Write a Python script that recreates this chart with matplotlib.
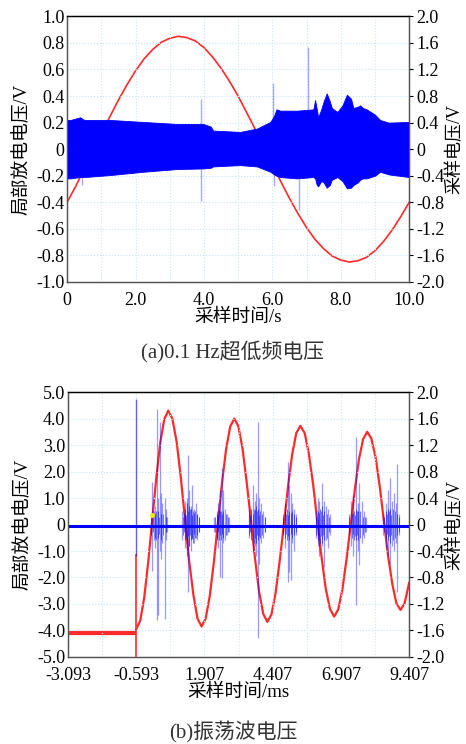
import matplotlib
matplotlib.use("Agg")
import matplotlib.pyplot as plt
from matplotlib.ticker import FixedLocator

plt.rcParams['font.family'] = ['Liberation Serif', 'Noto Sans CJK SC']
plt.rcParams['axes.unicode_minus'] = False

# ---- (a) 0.1 Hz VLF voltage ----
# sampled voltage (red, right axis), read every 0.25 s
vlf_t = [0, 0.25, 0.5, 0.75, 1.0, 1.25, 1.5, 1.75, 2.0, 2.25, 2.5, 2.75, 3.0, 3.25,
         3.5, 3.75, 4.0, 4.25, 4.5, 4.75, 5.0, 5.25, 5.5, 5.75, 6.0, 6.25, 6.5, 6.75,
         7.0, 7.25, 7.5, 7.75, 8.0, 8.25, 8.5, 8.75, 9.0, 9.25, 9.5, 9.75, 10.0]
vlf_v = [-0.80, -0.56, -0.30, -0.03, 0.23, 0.49, 0.74, 0.97, 1.18, 1.36, 1.50, 1.61,
         1.67, 1.70, 1.68, 1.63, 1.53, 1.39, 1.22, 1.02, 0.80, 0.55, 0.30, 0.03, -0.23,
         -0.49, -0.74, -0.97, -1.18, -1.36, -1.50, -1.61, -1.67, -1.70, -1.68, -1.63,
         -1.53, -1.39, -1.22, -1.02, -0.80]

# PD signal envelope (blue, left axis)
pd_t = [0, 0.1, 0.38, 0.5, 1.26, 2.23, 3.2, 3.98, 4.2, 4.27, 5.06, 5.55, 5.94, 6.05,
        6.12, 6.23, 6.72, 7.2, 7.25, 7.3, 7.34, 7.43, 7.5, 7.59, 7.68, 7.74, 7.9, 8.05,
        8.18, 8.3, 8.37, 8.5, 8.57, 8.65, 8.76, 9.0, 9.15, 9.4, 10.0]
pd_hi = [0.22, 0.22, 0.24, 0.22, 0.22, 0.205, 0.19, 0.19, 0.17, 0.14, 0.13, 0.155, 0.205,
         0.25, 0.30, 0.29, 0.29, 0.30, 0.37, 0.30, 0.24, 0.30, 0.36, 0.42, 0.36, 0.31,
         0.28, 0.33, 0.41, 0.38, 0.31, 0.32, 0.33, 0.31, 0.30, 0.26, 0.22, 0.20, 0.205]
pd_lo = [-0.22, -0.22, -0.21, -0.21, -0.195, -0.17, -0.15, -0.145, -0.14, -0.13, -0.12,
         -0.13, -0.17, -0.19, -0.20, -0.21, -0.22, -0.21, -0.22, -0.27, -0.28, -0.24,
         -0.25, -0.29, -0.27, -0.23, -0.21, -0.24, -0.295, -0.29, -0.27, -0.25, -0.23,
         -0.22, -0.22, -0.20, -0.17, -0.19, -0.21]

# isolated pulses (t, low, high)
pd_spike_t = [0.44, 3.92, 6.01, 6.05, 6.77, 7.05]
pd_spike_lo = [-0.27, -0.39, 0.0, -0.28, -0.46, 0.0]
pd_spike_hi = [0.0, 0.38, 0.50, 0.0, 0.0, 0.77]

# ---- (b) oscillating wave voltage ----
osc_flat_t = [-3.093, -0.593]
osc_flat_v = [-1.64, -1.64]
# red trigger step at -0.593 ms, in left-axis units
osc_step_t = -0.593
osc_step_lo, osc_step_hi = -5.0, -1.1

osc_t = [-0.593, -0.446, -0.300, -0.153, -0.007, 0.140, 0.287, 0.433, 0.58, 0.73, 0.89,
         1.04, 1.19, 1.34, 1.50, 1.65, 1.80, 1.95, 2.10, 2.25, 2.40, 2.55, 2.70, 2.85,
         3.00, 3.15, 3.30, 3.45, 3.61, 3.76, 3.91, 4.06, 4.21, 4.36, 4.51, 4.66, 4.82,
         4.97, 5.12, 5.27, 5.42, 5.58, 5.73, 5.89, 6.04, 6.20, 6.35, 6.51, 6.66, 6.81,
         6.96, 7.11, 7.27, 7.42, 7.57, 7.72, 7.87, 8.02, 8.18, 8.33, 8.48, 8.63, 8.79,
         8.94, 9.09, 9.24, 9.407]
osc_v = [-1.58, -1.45, -1.10, -0.56, 0.07, 0.70, 1.24, 1.59, 1.72, 1.60, 1.24, 0.71,
         0.09, -0.53, -1.06, -1.42, -1.54, -1.42, -1.08, -0.57, 0.03, 0.63, 1.14, 1.48,
         1.60, 1.48, 1.15, 0.65, 0.07, -0.52, -1.02, -1.35, -1.47, -1.36, -1.04, -0.56,
         0.01, 0.58, 1.06, 1.38, 1.49, 1.38, 1.07, 0.60, 0.05, -0.50, -0.97, -1.28, -1.39,
         -1.28, -0.98, -0.53, 0.01, 0.54, 0.99, 1.29, 1.40, 1.30, 1.01, 0.57, 0.06, -0.46,
         -0.90, -1.19, -1.29, -1.19, -0.88]

pd2_base = -0.05
pd2_first_t, pd2_first_lo, pd2_first_hi = -0.593, -1.2, 4.75

# faint PD pulses (t, low, high)
pd2_spike = [
    (-0.03, -1.75, 1.60), (0.05, -0.6, 0.5), (0.10, -0.9, 0.7), (0.156, -3.60, 4.38),
    (0.215, -3.42, 1.0), (0.28, -1.0, 3.88), (0.35, -0.7, 0.8), (0.31, -1.3, 1.2),
    (0.46, -3.55, 1.0), (0.50, -0.6, 0.6), (0.55, -0.3, 0.3),
    (1.10, -0.6, 0.5), (1.18, -0.9, 0.9), (1.25, -1.2, 1.0), (1.29, -2.53, 2.62),
    (1.35, -0.8, 1.3), (1.40, -1.0, 0.7), (1.45, -0.5, 1.5), (1.52, -0.7, 0.6),
    (1.58, -0.5, 0.8), (1.65, -0.6, 0.4), (1.72, -0.3, 0.3),
    (2.25, -0.3, 0.3), (2.35, -0.6, 0.5), (2.42, -0.9, 0.8), (2.47, -1.97, 1.30),
    (2.54, -2.03, 2.12), (2.60, -0.7, 1.3), (2.65, -0.6, 0.6), (2.72, -0.4, 0.4),
    (2.80, -0.3, 0.3),
    (3.55, -0.5, 0.6), (3.69, -1.03, 1.49), (3.75, -0.8, 0.9), (3.80, -1.2, 1.2),
    (3.85, -4.30, 3.88), (3.90, -1.5, 1.0), (3.97, -0.7, 0.8), (4.05, -0.5, 0.5),
    (4.12, -0.3, 0.3),
    (4.78, -0.4, 0.4), (4.85, -0.9, 0.8), (4.95, -2.16, 2.37), (5.00, -1.8, 1.5),
    (5.06, -2.09, 1.2), (5.12, -0.7, 0.8), (5.18, -1.0, 0.6), (5.25, -0.4, 0.4),
    (5.98, -0.5, 0.5), (6.05, -0.8, 1.0), (6.12, -1.2, 0.9), (6.20, -0.8, 1.57),
    (6.28, -1.6, 0.9), (6.35, -0.6, 0.7), (6.42, -0.9, 0.6), (6.50, -0.4, 0.4),
    (7.20, -0.4, 0.4), (7.28, -0.8, 0.9), (7.36, -1.2, 1.1), (7.46, -3.04, 3.31),
    (7.52, -1.0, 0.8), (7.58, -1.53, 1.55), (7.68, -0.7, 0.9), (7.76, -0.5, 0.5),
    (7.84, -0.3, 0.3),
    (8.45, -0.4, 0.4), (8.55, -0.9, 0.8), (8.62, -1.2, 1.3), (8.70, -1.5, 1.74),
    (8.78, -0.8, 0.9), (8.85, -1.0, 1.2), (8.92, -0.7, 0.8), (8.97, -2.54, 2.30),
    (9.03, -0.4, 0.4),
]

# dense burst cores (t, low, high)
pd2_core = [
    (-0.05, -0.4, 0.3), (0.02, -0.3, 0.35), (0.08, -0.5, 0.4), (0.12, -0.6, 0.5),
    (0.20, -0.5, 0.5), (0.25, -0.35, 0.3), (0.30, -0.6, 0.4), (0.40, -0.4, 0.4),
    (0.50, -0.3, 0.3),
    (1.12, -0.4, 0.3), (1.17, -0.3, 0.45), (1.20, -0.6, 0.6), (1.24, -0.5, 0.35),
    (1.27, -0.7, 0.8), (1.31, -0.45, 0.5), (1.34, -0.8, 0.7), (1.38, -0.4, 0.6),
    (1.41, -0.6, 0.6), (1.45, -0.55, 0.35), (1.48, -0.7, 0.5), (1.52, -0.35, 0.45),
    (1.55, -0.5, 0.5), (1.62, -0.4, 0.4), (1.70, -0.3, 0.3),
    (2.28, -0.3, 0.3), (2.36, -0.5, 0.4), (2.40, -0.3, 0.35), (2.44, -0.6, 0.6),
    (2.48, -0.4, 0.5), (2.52, -0.6, 0.5), (2.56, -0.35, 0.4), (2.60, -0.5, 0.5),
    (2.68, -0.4, 0.4), (2.76, -0.3, 0.3),
    (3.55, -0.4, 0.4), (3.59, -0.3, 0.35), (3.63, -0.6, 0.6), (3.67, -0.45, 0.4),
    (3.71, -0.7, 0.6), (3.75, -0.5, 0.55), (3.79, -0.7, 0.7), (3.83, -0.4, 0.5),
    (3.87, -0.6, 0.6), (3.91, -0.45, 0.35), (3.95, -0.5, 0.5), (4.03, -0.4, 0.4),
    (4.11, -0.3, 0.3),
    (4.78, -0.3, 0.3), (4.86, -0.5, 0.5), (4.90, -0.35, 0.4), (4.94, -0.6, 0.6),
    (4.98, -0.45, 0.35), (5.02, -0.6, 0.5), (5.06, -0.35, 0.45), (5.10, -0.5, 0.5),
    (5.18, -0.4, 0.4), (5.26, -0.3, 0.3),
    (5.98, -0.4, 0.3), (6.06, -0.6, 0.5), (6.10, -0.4, 0.45), (6.14, -0.7, 0.6),
    (6.18, -0.45, 0.5), (6.22, -0.7, 0.7), (6.26, -0.4, 0.35), (6.30, -0.6, 0.5),
    (6.38, -0.5, 0.4), (6.46, -0.3, 0.3),
    (7.22, -0.3, 0.3), (7.30, -0.5, 0.4), (7.34, -0.35, 0.45), (7.38, -0.6, 0.5),
    (7.42, -0.45, 0.35), (7.46, -0.6, 0.6), (7.50, -0.4, 0.5), (7.54, -0.6, 0.5),
    (7.62, -0.5, 0.5), (7.70, -0.4, 0.3), (7.78, -0.3, 0.3),
    (8.48, -0.3, 0.3), (8.56, -0.5, 0.5), (8.60, -0.35, 0.4), (8.64, -0.6, 0.6),
    (8.68, -0.45, 0.5), (8.72, -0.7, 0.6), (8.76, -0.4, 0.35), (8.80, -0.6, 0.6),
    (8.88, -0.5, 0.5), (8.96, -0.4, 0.4), (9.04, -0.3, 0.3),
]
pd2_dot = (-0.03, 0.36)

# tick labels
top_xticks = [0, 2, 4, 6, 8, 10]
top_xlabels = ['0', '2.0', '4.0', '6.0', '8.0', '10.0']
top_yticks = [-1.0, -0.8, -0.6, -0.4, -0.2, 0, 0.2, 0.4, 0.6, 0.8, 1.0]
top_ylabels = ['-1.0', '-0.8', '-0.6', '-0.4', '-0.2', '0', '0.2', '0.4', '0.6', '0.8', '1.0']
bot_xticks = [-3.093, -0.593, 1.907, 4.407, 6.907, 9.407]
bot_xlabels = ['-3.093', '-0.593', '1.907', '4.407', '6.907', '9.407']
bot_yticks = [-5, -4, -3, -2, -1, 0, 1, 2, 3, 4, 5]
bot_ylabels = ['-5.0', '-4.0', '-3.0', '-2.0', '-1.0', '0', '1.0', '2.0', '3.0', '4.0', '5.0']
r_yticks = [-2.0, -1.6, -1.2, -0.8, -0.4, 0, 0.4, 0.8, 1.2, 1.6, 2.0]
r_ylabels = ['-2.0', '-1.6', '-1.2', '-0.8', '-0.4', '0', '0.4', '0.8', '1.2', '1.6', '2.0']

RED = '#ff2a2a'
BLUE = '#0000ff'
GRID = '#c6e6f2'
FS = 13


def style(ax, ax2, xticks, xlabels, xminor, yticks, ylabels, xlabel):
    ax.set_zorder(2)
    ax2.set_zorder(1)
    ax.patch.set_visible(False)
    ax.set_xticks(xticks)
    ax.set_xticklabels(xlabels, fontsize=FS)
    ax.xaxis.set_minor_locator(FixedLocator(xminor))
    ax.set_yticks(yticks)
    ax.set_yticklabels(ylabels, fontsize=FS)
    ax.tick_params(axis='both', which='both', length=0, pad=2)
    ax.tick_params(axis='x', pad=7)
    ax.grid(True, which='both', axis='x', color=GRID, ls=':', lw=0.8)
    ax.grid(True, which='major', axis='y', color=GRID, ls=':', lw=0.8)
    ax.set_axisbelow(True)
    ax.set_xlabel(xlabel, fontsize=13.5, labelpad=0)
    ax.set_ylabel('局部放电电压/V', fontsize=13.5, labelpad=4)
    ax2.set_ylim(-2, 2)
    ax2.set_yticks(r_yticks)
    ax2.set_yticklabels(r_ylabels, fontsize=FS)
    ax2.tick_params(axis='y', direction='out', length=3, width=0.8, pad=2)
    ax2.set_ylabel('采样电压/V', fontsize=13, labelpad=1)
    for a in (ax, ax2):
        for s in a.spines.values():
            s.set_color('#555555')
            s.set_linewidth(0.9)
        a.spines['top'].set_color('#000000')


fig = plt.figure(figsize=(4.66, 7.44), dpi=100)
ax_a = fig.add_axes([0.144, 0.621, 0.734, 0.357])
ax_a2 = ax_a.twinx()
ax_b = fig.add_axes([0.146, 0.117, 0.732, 0.356])
ax_b2 = ax_b.twinx()

# (a)
ax_a2.plot(vlf_t, vlf_v, color=RED, lw=1.2)
ax_a.fill_between(pd_t, pd_lo, pd_hi, color=BLUE, lw=0.6, edgecolor=BLUE)
ax_a.vlines(pd_spike_t, pd_spike_lo, pd_spike_hi, color=BLUE, alpha=0.35, lw=1.0)
ax_a.set_xlim(0, 10)
ax_a.set_ylim(-1, 1)
style(ax_a, ax_a2, top_xticks, top_xlabels, [1, 3, 5, 7, 9],
      top_yticks, top_ylabels, '采样时间/s')

# (b)
ax_b2.plot(osc_flat_t, osc_flat_v, color=RED, lw=3.0, solid_capstyle='butt')
ax_b2.plot(osc_t, osc_v, color=RED, lw=1.6)
ax_b.vlines(osc_step_t, osc_step_lo, osc_step_hi, color=RED, lw=1.2)
sp_t = [s[0] for s in pd2_spike]
ax_b.vlines(sp_t, [s[1] for s in pd2_spike], [s[2] for s in pd2_spike],
            color=BLUE, alpha=0.4, lw=0.9)
ax_b.vlines([c[0] for c in pd2_core], [c[1] for c in pd2_core], [c[2] for c in pd2_core],
            color=BLUE, alpha=0.55, lw=0.7)
ax_b.vlines(pd2_first_t, pd2_first_lo, pd2_first_hi, color=BLUE, alpha=0.6, lw=1.0)
ax_b.plot(osc_flat_t[:1] + [bot_xticks[-1]], [pd2_base, pd2_base], color=BLUE, lw=2.2)
ax_b.plot([pd2_dot[0]], [pd2_dot[1]], 'o', color='#f0f000', ms=2.5)
ax_b.set_xlim(-3.093, 9.407)
ax_b.set_ylim(-5, 5)
style(ax_b, ax_b2, bot_xticks, bot_xlabels, [-1.843, 0.657, 3.157, 5.657, 8.157],
      bot_yticks, bot_ylabels, '采样时间/ms')

fig.text(0.5, 1 - 352 / 744, '(a)0.1 Hz超低频电压', ha='center', va='center',
         fontsize=15, color='#333333')
fig.text(0.5, 1 - 732 / 744, '(b)振荡波电压', ha='center', va='center',
         fontsize=15, color='#333333')

fig.savefig('out.png', dpi=100)
